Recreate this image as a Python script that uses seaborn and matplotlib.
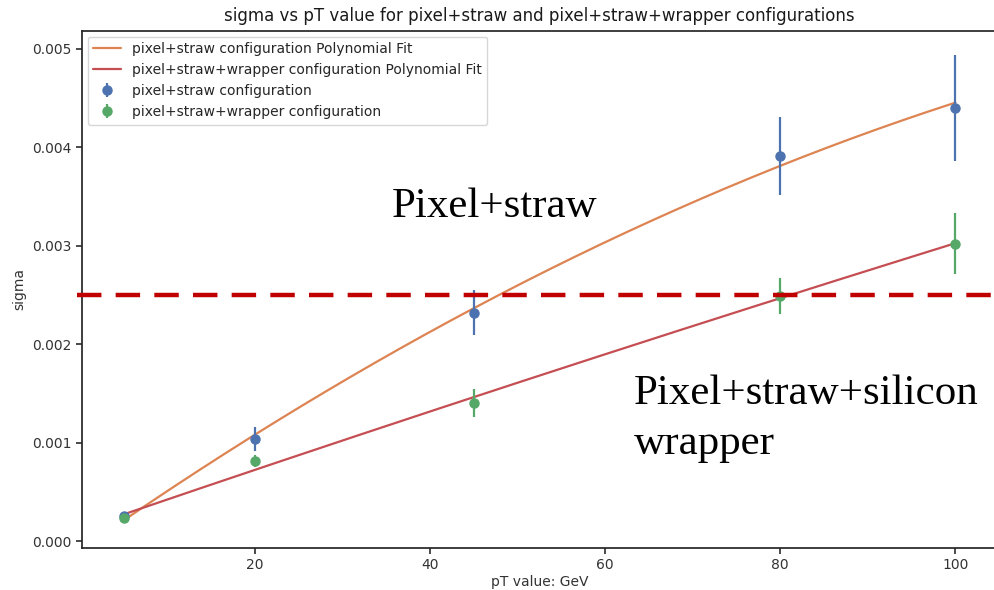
import numpy as np
import pandas as pd
import matplotlib
matplotlib.use("Agg")
import matplotlib.pyplot as plt
import seaborn as sns

# Measured resolution for each transverse-momentum point
pt_values = [5, 20, 45, 80, 100]
sigma_straw = [0.00025, 0.00104, 0.00232, 0.00391, 0.00440]
err_straw = [0.00003, 0.00012, 0.00023, 0.00040, 0.00054]
sigma_wrapper = [0.00023, 0.00081, 0.00140, 0.00249, 0.00302]
err_wrapper = [0.00003, 0.00006, 0.00014, 0.00018, 0.00031]

threshold = 0.0025
fit_degree = 2

sns.set_theme(style="ticks", palette="deep")
plt.rcParams["font.family"] = ["DejaVu Sans"]
pal = sns.color_palette("deep")

fig = plt.figure(figsize=(9.94, 5.90), dpi=100)
ax = fig.add_axes([82 / 994, 42 / 590, 915 / 994, 517 / 590])

x = np.array(pt_values, dtype=float)
x_fine = np.linspace(x.min(), x.max(), 200)


def poly_curve(yv):
    coefs = np.polyfit(x, yv, fit_degree)
    return np.polyval(coefs, x_fine)


fits = pd.DataFrame({
    "pT": np.concatenate([x_fine, x_fine]),
    "sigma": np.concatenate([poly_curve(sigma_straw), poly_curve(sigma_wrapper)]),
    "config": ["pixel+straw configuration Polynomial Fit"] * len(x_fine)
              + ["pixel+straw+wrapper configuration Polynomial Fit"] * len(x_fine),
})

ax.errorbar(pt_values, sigma_straw, yerr=err_straw, fmt="o", color=pal[0],
            markersize=6.5, elinewidth=1.6, capsize=0,
            label="pixel+straw configuration", zorder=3)
sns.lineplot(data=fits, x="pT", y="sigma", hue="config",
             palette=[pal[1], pal[3]], linewidth=1.6, ax=ax, zorder=2)
ax.errorbar(pt_values, sigma_wrapper, yerr=err_wrapper, fmt="o", color=pal[2],
            markersize=6.5, elinewidth=1.6, capsize=0,
            label="pixel+straw+wrapper configuration", zorder=3)

ax.axhline(threshold, color="#c00000", linewidth=3.2, dashes=(5.5, 3.2),
           zorder=4, xmin=-0.005, clip_on=False)

ax.set_xlim(0.25, 104.75)
ax.set_ylim(-0.00007, 0.00518)
ax.set_xticks([20, 40, 60, 80, 100])
ax.set_yticks([0.0, 0.001, 0.002, 0.003, 0.004, 0.005])
ax.yaxis.set_major_formatter(matplotlib.ticker.FormatStrFormatter("%.3f"))
ax.tick_params(labelsize=10, colors=".2", length=4)
ax.set_xlabel("pT value: GeV", fontsize=10, color=".2", labelpad=2)
ax.set_ylabel("sigma", fontsize=10, color=".2")
ax.set_title("sigma vs pT value for pixel+straw and pixel+straw+wrapper configurations",
             fontsize=12, color=".1", pad=7)

h, l = ax.get_legend_handles_labels()
order = [l.index(s) for s in ["pixel+straw configuration Polynomial Fit",
                              "pixel+straw+wrapper configuration Polynomial Fit",
                              "pixel+straw configuration",
                              "pixel+straw+wrapper configuration"]]
ax.legend([h[i] for i in order], [l[i] for i in order], loc="upper left",
          fontsize=10, frameon=True, borderaxespad=0.4)

serif = ["Liberation Serif", "DejaVu Serif"]
ax.text(0.3388, 0.640, "Pixel+straw", transform=ax.transAxes, fontsize=31,
        family=serif, color="black", va="baseline")
ax.text(0.603, 0.2785, "Pixel+straw+silicon", transform=ax.transAxes,
        fontsize=31, family=serif, color="black", va="baseline")
ax.text(0.603, 0.1818, "wrapper", transform=ax.transAxes,
        fontsize=31, family=serif, color="black", va="baseline")

fig.savefig("out.png", dpi=100)
